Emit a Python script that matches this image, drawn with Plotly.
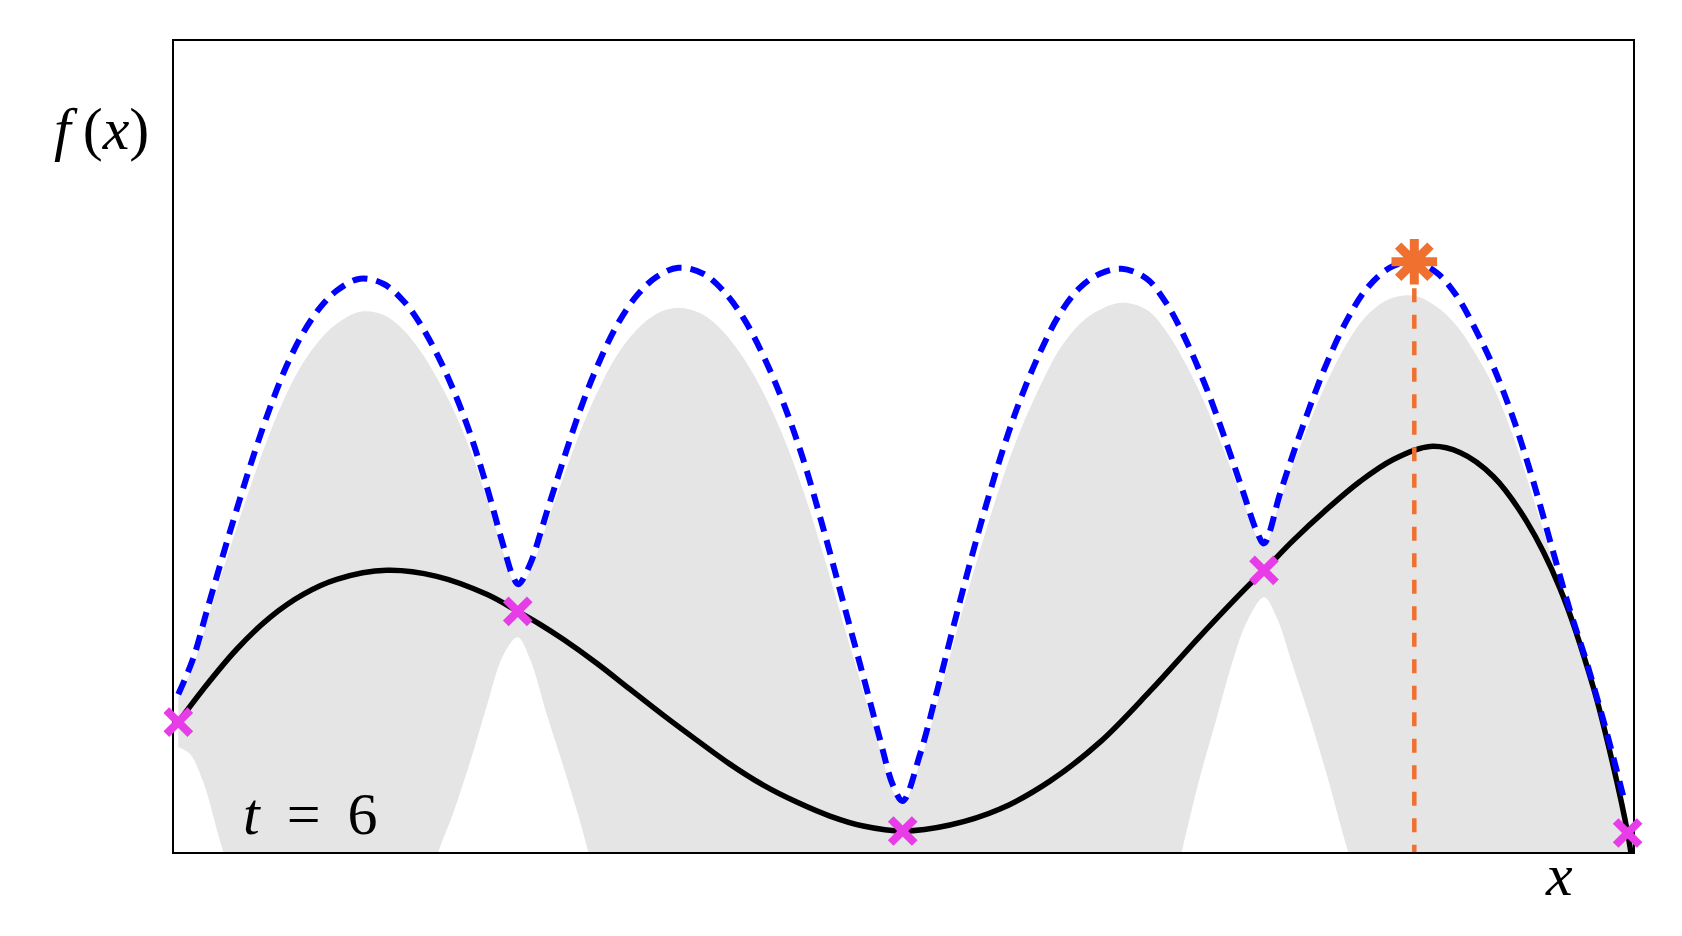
import plotly.graph_objects as go

# ---- data (x: 0..10, y: arbitrary units) ----
obs_x = [0.0, 2.342, 4.998, 7.491, 10.0]
obs_y = [1.30, 2.41, 0.21, 2.82, 0.19]

next_x = [8.528]
next_y = [5.91]

f_x = [0, 0.172, 0.403, 0.633, 0.862, 1.093, 1.438, 1.783, 2.128, 2.342, 2.496, 2.656,
       2.887, 3.116, 3.346, 3.577, 3.806, 4.036, 4.267, 4.496, 4.726, 4.998, 5.324,
       5.669, 6.014, 6.359, 6.704, 7.049, 7.371, 7.491, 7.693, 7.923, 8.153, 8.383,
       8.636, 8.843, 9.073, 9.303, 9.533, 9.763, 9.901, 10.0, 10.03]
f_y = [1.30, 1.63, 2.03, 2.35, 2.58, 2.73, 2.82, 2.76, 2.58, 2.41, 2.28, 2.13,
       1.89, 1.63, 1.37, 1.12, 0.88, 0.67, 0.50, 0.36, 0.26, 0.21, 0.27,
       0.43, 0.71, 1.10, 1.61, 2.16, 2.65, 2.82, 3.12, 3.43, 3.71, 3.93,
       4.06, 4.00, 3.76, 3.31, 2.64, 1.65, 0.86, 0.19, -0.08]

ucb_x = [0, 0.103, 0.196, 0.310, 0.403, 0.517, 0.633, 0.748, 0.862, 0.978, 1.093, 1.254,
         1.414, 1.552, 1.668, 1.783, 1.897, 2.013, 2.128, 2.242, 2.311, 2.346, 2.427,
         2.496, 2.542, 2.656, 2.771, 2.887, 3.025, 3.163, 3.301, 3.450, 3.622, 3.760,
         3.898, 4.036, 4.174, 4.312, 4.450, 4.588, 4.726, 4.841, 4.933, 4.998, 5.118,
         5.233, 5.347, 5.462, 5.577, 5.692, 5.807, 5.945, 6.083, 6.221, 6.359, 6.509,
         6.681, 6.819, 6.957, 7.095, 7.233, 7.348, 7.441, 7.491, 7.602, 7.693, 7.808,
         7.923, 8.061, 8.199, 8.360, 8.528, 8.682, 8.820, 8.958, 9.073, 9.211, 9.349,
         9.487, 9.602, 9.717, 9.855, 9.98]
ucb_y = [1.58, 1.94, 2.41, 2.98, 3.43, 3.96, 4.45, 4.87, 5.20, 5.45, 5.62, 5.74,
         5.69, 5.52, 5.29, 4.99, 4.63, 4.19, 3.66, 3.07, 2.75, 2.68, 2.88,
         3.18, 3.40, 3.92, 4.42, 4.85, 5.27, 5.57, 5.76, 5.85, 5.79, 5.62,
         5.35, 4.97, 4.50, 3.93, 3.24, 2.50, 1.76, 1.13, 0.66, 0.51, 0.98,
         1.60, 2.25, 2.89, 3.49, 4.04, 4.52, 5.00, 5.39, 5.65, 5.79, 5.84,
         5.74, 5.49, 5.11, 4.64, 4.09, 3.60, 3.21, 3.09, 3.59, 3.99, 4.46,
         4.89, 5.32, 5.64, 5.85, 5.91, 5.80, 5.57, 5.21, 4.86, 4.34, 3.71,
         3.00, 2.42, 1.90, 1.20, 0.50]

band_hi_x = [0, 0.103, 0.196, 0.310, 0.403, 0.517, 0.633, 0.748, 0.862, 0.978, 1.093, 1.254,
             1.414, 1.552, 1.668, 1.783, 1.897, 2.013, 2.128, 2.242, 2.311, 2.346, 2.427,
             2.496, 2.542, 2.656, 2.771, 2.887, 3.025, 3.163, 3.301, 3.450, 3.622, 3.760,
             3.898, 4.036, 4.174, 4.312, 4.450, 4.588, 4.726, 4.841, 4.933, 4.998, 5.118,
             5.233, 5.347, 5.462, 5.577, 5.692, 5.807, 5.945, 6.083, 6.221, 6.359, 6.509,
             6.681, 6.819, 6.957, 7.095, 7.233, 7.348, 7.441, 7.491, 7.602, 7.693, 7.808,
             7.923, 8.061, 8.199, 8.360, 8.528, 8.682, 8.820, 8.958, 9.073, 9.211, 9.349,
             9.487, 9.533, 9.602, 9.717, 9.855, 9.94, 10.0]
band_hi_y = [1.55, 1.87, 2.30, 2.83, 3.25, 3.74, 4.20, 4.59, 4.90, 5.13, 5.29, 5.41,
             5.38, 5.23, 5.02, 4.75, 4.43, 4.03, 3.54, 3.00, 2.71, 2.65, 2.81,
             3.08, 3.28, 3.75, 4.20, 4.59, 4.97, 5.23, 5.39, 5.45, 5.38, 5.21,
             4.95, 4.60, 4.16, 3.62, 2.98, 2.29, 1.61, 1.03, 0.60, 0.48, 0.90,
             1.47, 2.08, 2.68, 3.24, 3.76, 4.21, 4.66, 5.04, 5.29, 5.43, 5.50,
             5.43, 5.21, 4.87, 4.45, 3.95, 3.51, 3.16, 3.06, 3.52, 3.88, 4.31,
             4.70, 5.09, 5.37, 5.54, 5.57, 5.46, 5.27, 4.97, 4.66, 4.16, 3.54,
             2.89, 2.65, 2.32, 1.83, 1.10, 0.58, 0.17]

band_lo_x = [0, 0.081, 0.172, 0.288, 0.403, 0.517, 0.633, 0.862, 1.093, 1.288, 1.507, 1.668,
             1.794, 1.897, 2.013, 2.128, 2.242, 2.342, 2.427, 2.542, 2.656, 2.771, 2.829,
             2.887, 3.025, 3.25, 3.45, 3.76, 4.174, 4.588, 4.998, 5.35, 5.807, 6.221,
             6.509, 6.681, 6.819, 6.923, 7.049, 7.164, 7.279, 7.371, 7.491, 7.575, 7.693,
             7.808, 7.923, 8.072, 8.3, 8.6, 9.0, 9.5, 10.0]
band_lo_y = [1.05, 0.98, 0.70, 0.11, -0.45, -0.95, -1.25, -1.55, -1.70, -1.70, -1.35, -0.62,
             0.0, 0.39, 0.90, 1.46, 1.97, 2.15, 1.93, 1.38, 0.86, 0.31, 0.0,
             -0.30, -0.95, -1.70, -2.00, -1.85, -1.20, -0.50, -0.08, -0.50, -1.60, -2.10,
             -2.00, -1.40, -0.65, 0.0, 0.75, 1.34, 1.93, 2.30, 2.55, 2.36, 1.85,
             1.34, 0.78, 0.0, -1.0, -1.8, -1.9, -1.2, -0.4]

label_y = "<i>f</i>\u2009(<i>x</i>)"
label_x = "<i>x</i>"
label_t = "<i>t</i>\u2009 = \u20096"

# ---- figure ----
fig = go.Figure()

fig.add_trace(go.Scatter(x=band_lo_x, y=band_lo_y, mode="lines",
                         line=dict(width=0, shape="spline", simplify=False,
                                   color="rgba(0,0,0,0)"),
                         hoverinfo="skip", showlegend=False))
fig.add_trace(go.Scatter(x=band_hi_x, y=band_hi_y, mode="lines", fill="tonexty",
                         fillcolor="rgb(229,229,229)",
                         line=dict(width=0, shape="spline", simplify=False,
                                   color="rgba(0,0,0,0)"),
                         hoverinfo="skip", showlegend=False))
fig.add_trace(go.Scatter(x=f_x, y=f_y, mode="lines",
                         line=dict(color="black", width=5.5, shape="spline", simplify=False),
                         showlegend=False))
fig.add_trace(go.Scatter(x=ucb_x, y=ucb_y, mode="lines",
                         line=dict(color="#0000ff", width=6, shape="spline", simplify=False,
                                   dash="15px,9px"),
                         showlegend=False))
fig.add_trace(go.Scatter(x=[next_x[0], next_x[0]], y=[next_y[0], 0], mode="lines",
                         line=dict(color="#f07030", width=4.5, dash="14px,12.5px"),
                         showlegend=False))
fig.add_trace(go.Scatter(x=obs_x, y=obs_y, mode="markers", cliponaxis=False,
                         marker=dict(symbol="x-thin", size=24, color="#e83ce8",
                                     line=dict(color="#e83ce8", width=8)),
                         showlegend=False))
fig.add_trace(go.Scatter(x=next_x, y=next_y, mode="markers", cliponaxis=False,
                         marker=dict(symbol="asterisk", size=38, color="#f07030",
                                     line=dict(color="#f07030", width=9)),
                         showlegend=False))

serif = "Liberation Serif"
fig.add_annotation(text=label_y, xref="paper", yref="paper",
                   x=-0.05, y=0.891, xanchor="center", yanchor="middle", showarrow=False,
                   font=dict(family=serif, size=60, color="black"))
fig.add_annotation(text=label_x, xref="paper", yref="paper",
                   x=0.9493, y=-0.028, xanchor="center", yanchor="middle", showarrow=False,
                   font=dict(family=serif, size=60, color="black"))
fig.add_annotation(text=label_t, xref="x", yref="y",
                   x=0.909, y=0.383, xanchor="center", yanchor="middle", showarrow=False,
                   font=dict(family=serif, size=60, color="black"))

axis_common = dict(showgrid=False, zeroline=False, showticklabels=False, ticks="",
                   showline=True, linecolor="black", linewidth=1.5, mirror=True,
                   layer="below traces", fixedrange=True)
fig.update_xaxes(range=[-0.0297, 10.037], **axis_common)
fig.update_yaxes(range=[0, 8.12], **axis_common)

fig.update_layout(width=1682, height=936,
                  margin=dict(l=174, r=49, t=41, b=84),
                  paper_bgcolor="white", plot_bgcolor="white")

fig.write_html("out.html", config={"displayModeBar": False},
               post_script="document.body.style.margin='0';")
